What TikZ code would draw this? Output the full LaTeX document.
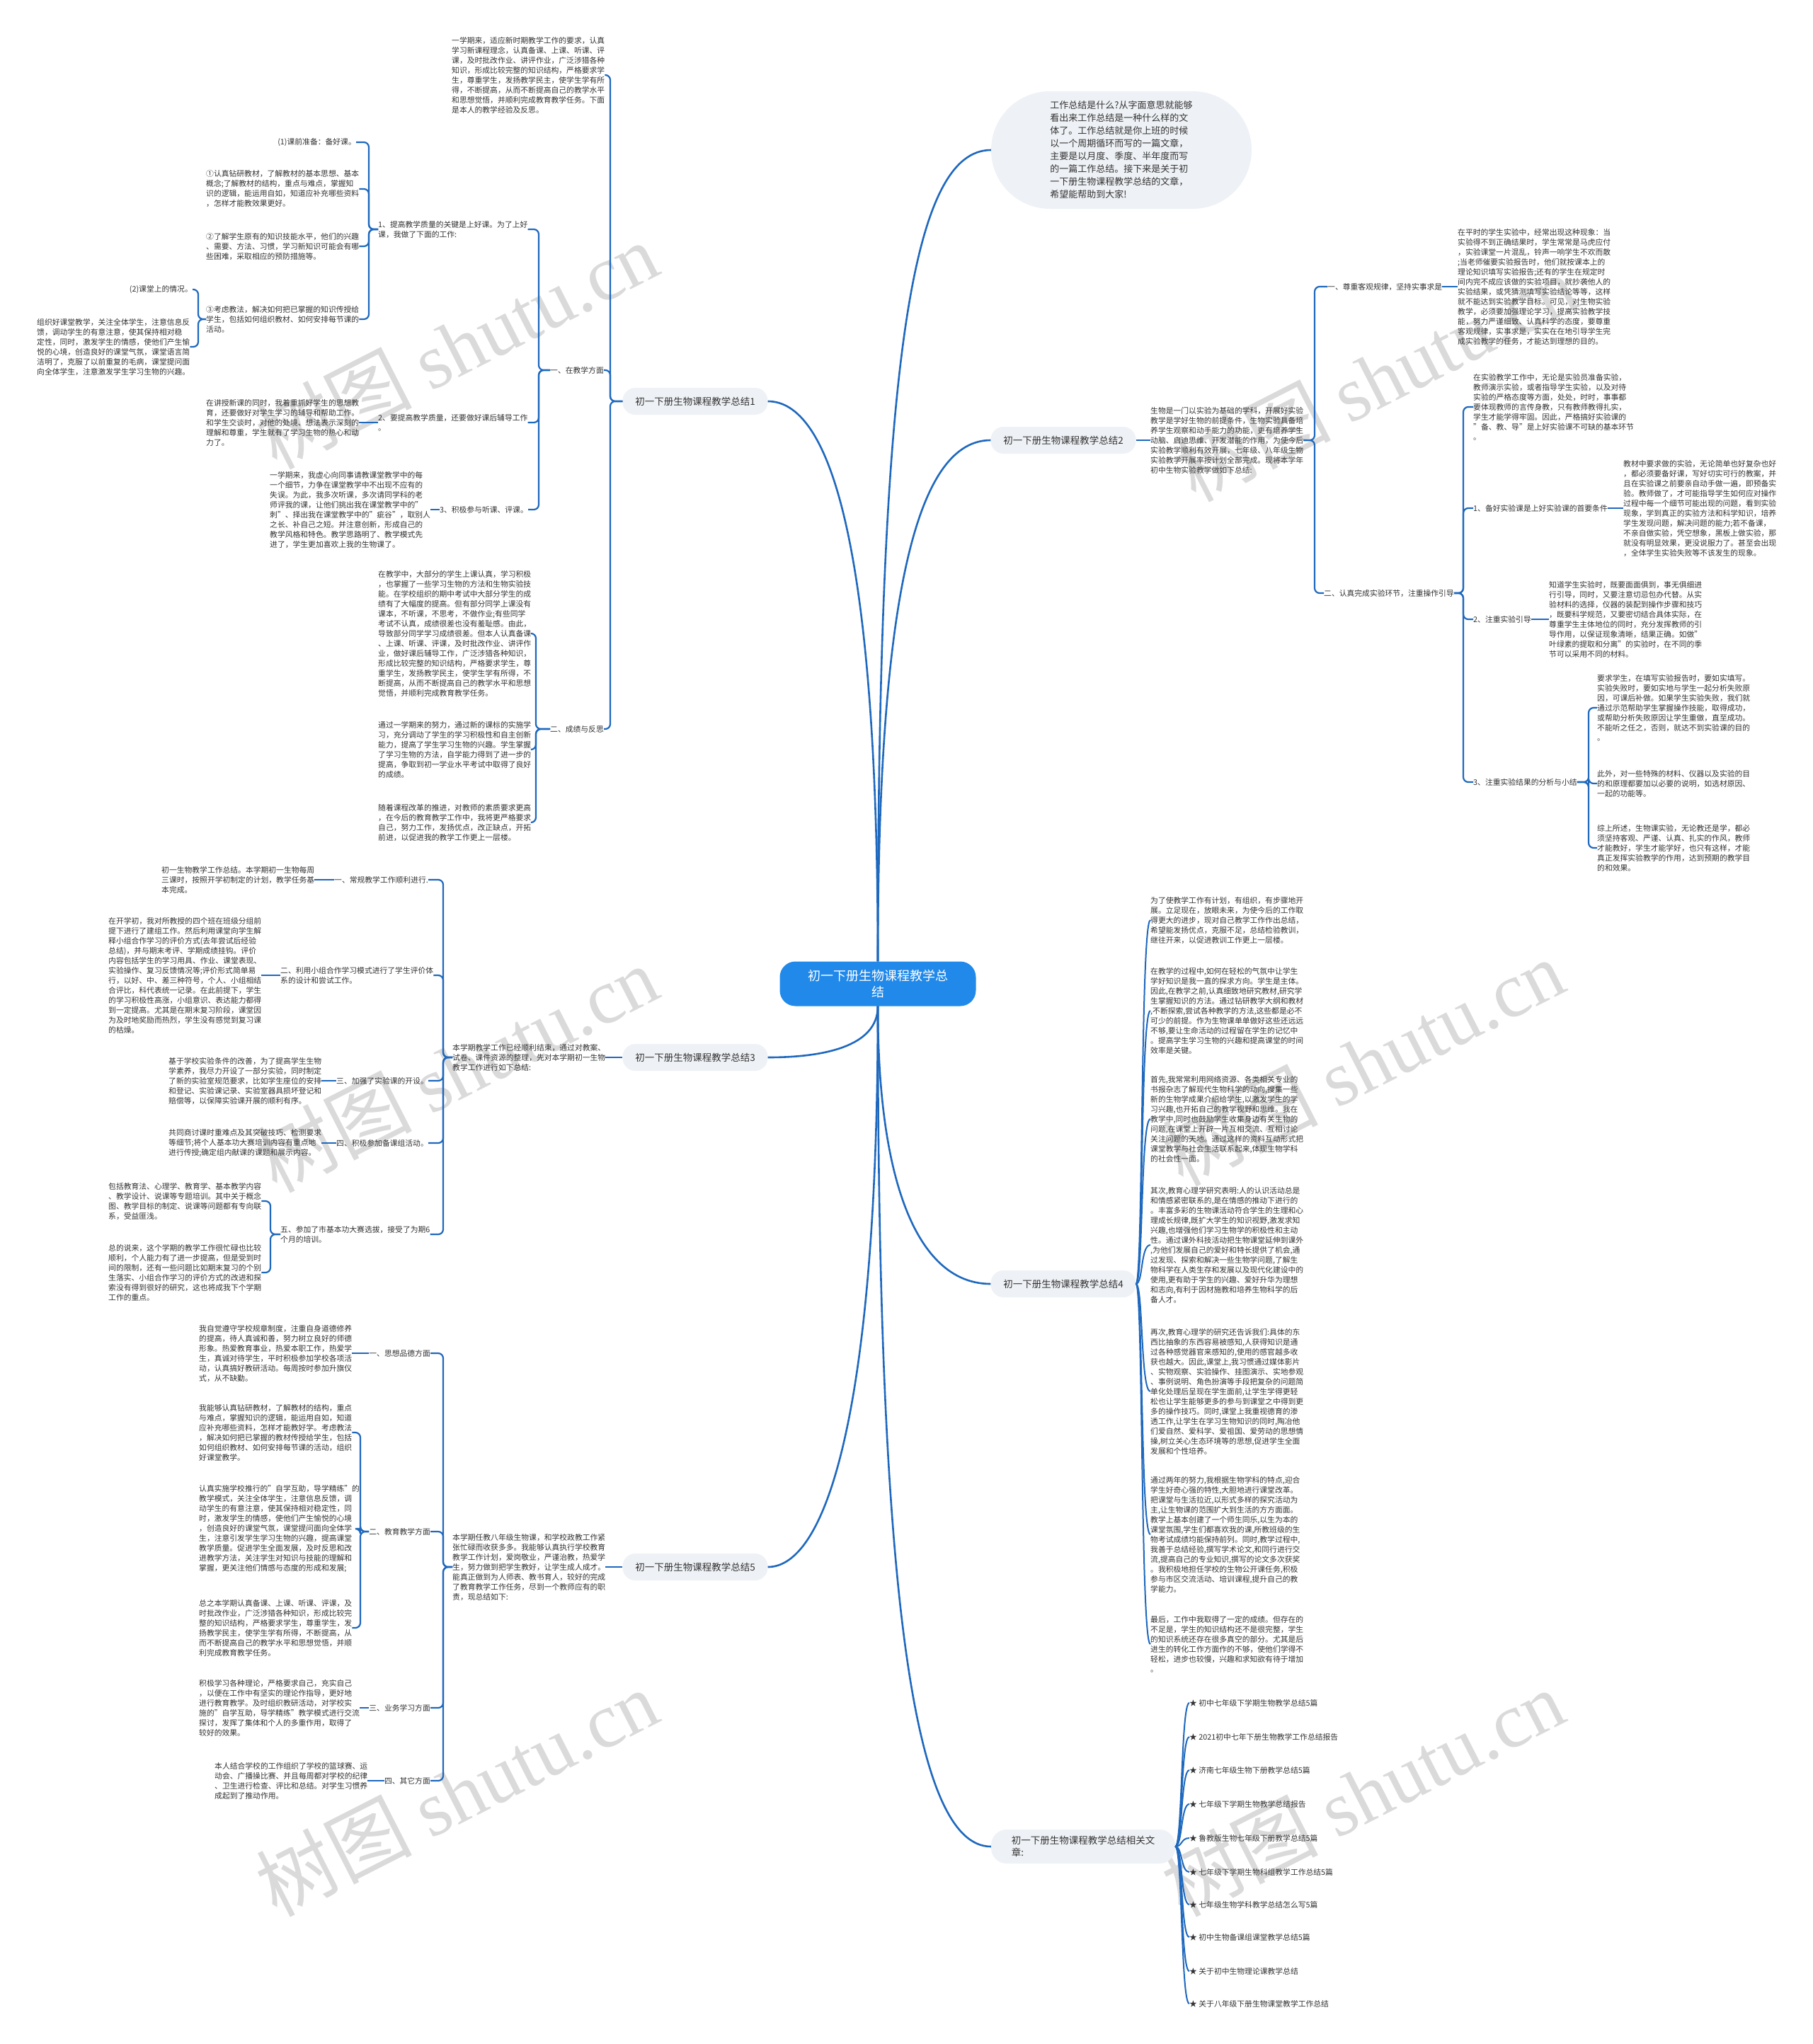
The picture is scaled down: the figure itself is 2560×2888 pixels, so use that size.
\documentclass[tikz,border=0pt]{standalone}
\usepackage{fontspec}
\setmainfont{Noto Sans CJK SC}
\newfontfamily\wmfont{Liberation Serif}
\definecolor{linec}{RGB}{30,104,190}
\definecolor{rootc}{RGB}{32,137,233}
\definecolor{lfill}{RGB}{238,241,245}
\definecolor{textc}{RGB}{51,51,51}
\definecolor{wmc}{RGB}{218,218,218}
\begin{document}
\begin{tikzpicture}[x=1pt,y=-1pt,
  txt/.style={align=left, inner sep=0pt, text=textc, font=\fontsize{10.8}{14}\selectfont},
  lvone/.style={fill=lfill, rounded corners=18pt, text=textc, font=\fontsize{13.5}{17}\selectfont, minimum width=205pt, minimum height=38pt, inner sep=0pt, align=center},
  conn/.style={draw=linec, line width=2.2pt, rounded corners=7pt},
  cconn/.style={draw=linec, line width=2pt},
  mconn/.style={draw=linec, line width=2.6pt},
  wm/.style={text=wmc, rotate=27, font=\fontsize{110}{110}\selectfont, inner sep=0pt}]
\fill[white] (0,0) rectangle (2560,2888);
\useasboundingbox (0,0) rectangle (2560,2888);
% watermarks
\node[wm] (w1) at (645,488) {树图 {\wmfont shutu.cn}};
\node[wm] (w2) at (1943,534) {树图 {\wmfont shutu.cn}};
\node[wm] (w3) at (645,1510) {树图 {\wmfont shutu.cn}};
\node[wm] (w4) at (1925,1501) {树图 {\wmfont shutu.cn}};
\node[wm] (w5) at (645,2533) {树图 {\wmfont shutu.cn}};
\node[wm] (w6) at (1925,2533) {树图 {\wmfont shutu.cn}};

% root
\node[fill=rootc, rounded corners=22pt, text=white, font=\fontsize{18}{23}\selectfont, minimum width=277pt, minimum height=63pt, align=center, inner sep=0pt] (root) at (1240,1390) {初一下册生物课程教学总\\结};

% level one
\node[lvone] (b1) at (982,567) {初一下册生物课程教学总结1};
\node[lvone] (b3) at (982,1494) {初一下册生物课程教学总结3};
\node[lvone] (b5) at (982,2214) {初一下册生物课程教学总结5};
\node[lvone] (b2) at (1502,622) {初一下册生物课程教学总结2};
\node[lvone] (b4) at (1502,1814) {初一下册生物课程教学总结4};
\node[lvone, minimum width=260pt, minimum height=48pt, rounded corners=22pt, align=left] (b6) at (1530,2609) {初一下册生物课程教学总结相关文\\章:};
\node[fill=lfill, rounded corners=83pt, minimum width=368pt, minimum height=166pt, align=left, inner sep=0pt, text=textc, font=\fontsize{13}{18}\selectfont] (intro) at (1584,212) {工作总结是什么?从字面意思就能够\\看出来工作总结是一种什么样的文\\体了。工作总结就是你上班的时候\\以一个周期循环而写的一篇文章，\\主要是以月度、季度、半年度而写\\的一篇工作总结。接下来是关于初\\一下册生物课程教学总结的文章，\\希望能帮助到大家!};

% root connectors
\draw[mconn] (root.north) .. controls (1240,760) and (1170,567) .. (b1.east);
\draw[mconn] (root.south) .. controls (1240,1480) and (1160,1494) .. (b3.east);
\draw[mconn] (root.south) .. controls (1240,1980) and (1170,2214) .. (b5.east);
\draw[mconn] (root.north) .. controls (1240,500) and (1290,212) .. (intro.west);
\draw[mconn] (root.north) .. controls (1240,820) and (1300,622) .. (b2.west);
\draw[mconn] (root.south) .. controls (1240,1680) and (1300,1814) .. (b4.west);
\draw[mconn] (root.south) .. controls (1240,2250) and (1290,2609) .. (b6.west);

% ================= Branch 1 =================
\node[txt, anchor=west] (p0) at (638,106) {一学期来，适应新时期教学工作的要求，认真\\学习新课程理念，认真备课、上课、听课、评\\课，及时批改作业、讲评作业，广泛涉猎各种\\知识，形成比较完整的知识结构，严格要求学\\生，尊重学生，发扬教学民主，使学生学有所\\得，不断提高，从而不断提高自己的教学水平\\和思想觉悟，并顺利完成教育教学任务。下面\\是本人的教学经验及反思。};
\node[txt, anchor=east] (n1) at (853,523) {一、在教学方面};
\node[txt, anchor=east] (n2) at (853,1030) {二、成绩与反思};
\coordinate (k1) at (862,567);
\draw[conn] (b1.west) -- (k1) |- (p0.east);
\draw[conn] (b1.west) -- (k1) |- (n1.east);
\draw[conn] (b1.west) -- (k1) |- (n2.east);

\node[txt, anchor=west] (c11) at (534,324) {1、提高教学质量的关键是上好课。为了上好\\课，我做了下面的工作:};
\node[txt, anchor=west] (c12) at (534,597) {2、要提高教学质量，还要做好课后辅导工作\\。};
\node[txt, anchor=east] (c13) at (746,720) {3、积极参与听课、评课。};
\coordinate (k11) at (761,523);
\draw[conn] (n1.west) -- (k11) |- (c11.east);
\draw[conn] (n1.west) -- (k11) |- (c12.east);
\draw[conn] (n1.west) -- (k11) |- (c13.east);

\node[txt, anchor=east] (d1) at (503,201) {(1)课前准备：备好课。};
\node[txt, anchor=west] (d2) at (291,267) {①认真钻研教材，了解教材的基本思想、基本\\概念;了解教材的结构，重点与难点，掌握知\\识的逻辑，能运用自如，知道应补充哪些资料\\，怎样才能教效果更好。};
\node[txt, anchor=west] (d3) at (291,348) {②了解学生原有的知识技能水平，他们的兴趣\\、需要、方法、习惯，学习新知识可能会有哪\\些困难，采取相应的预防措施等。};
\node[txt, anchor=west] (d4) at (291,451) {③考虑教法，解决如何把已掌握的知识传授给\\学生，包括如何组织教材、如何安排每节课的\\活动。};
\coordinate (k111) at (521,324);
\draw[conn] (c11.west) -- (k111) |- (d1.east);
\draw[conn] (c11.west) -- (k111) |- (d2.east);
\draw[conn] (c11.west) -- (k111) |- (d3.east);
\draw[conn] (c11.west) -- (k111) |- (d4.east);

\node[txt, anchor=east] (e1) at (272,409) {(2)课堂上的情况。};
\node[txt, anchor=west] (e2) at (52,490) {组织好课堂教学，关注全体学生，注意信息反\\馈，调动学生的有意注意，使其保持相对稳\\定性，同时，激发学生的情感，使他们产生愉\\悦的心境，创造良好的课堂气氛，课堂语言简\\洁明了，克服了以前重复的毛病，课堂提问面\\向全体学生，注意激发学生学习生物的兴趣。};
\coordinate (k1114) at (280,451);
\draw[conn] (d4.west) -- (k1114) |- (e1.east);
\draw[conn] (d4.west) -- (k1114) |- (e2.east);

\node[txt, anchor=west] (d5) at (291,597) {在讲授新课的同时，我着重抓好学生的思想教\\育，还要做好对学生学习的辅导和帮助工作。\\和学生交谈时，对他的处境、想法表示深刻的\\理解和尊重，学生就有了学习生物的热心和动\\力了。};
\draw[conn] (c12.west) -- (d5.east);
\node[txt, anchor=west] (d6) at (381,720) {一学期来，我虚心向同事请教课堂教学中的每\\一个细节，力争在课堂教学中不出现不应有的\\失误。为此，我多次听课，多次请同学科的老\\师评我的课，让他们挑出我在课堂教学中的"\\刺"、择出我在课堂教学中的"疵谷"，取别人\\之长、补自己之短。并注意创新，形成自己的\\教学风格和特色。教学思路明了、教学模式先\\进了，学生更加喜欢上我的生物课了。};
\draw[conn] (c13.west) -- (d6.east);

\node[txt, anchor=west] (d7) at (534,895) {在教学中，大部分的学生上课认真，学习积极\\，也掌握了一些学习生物的方法和生物实验技\\能。在学校组织的期中考试中大部分学生的成\\绩有了大幅度的提高。但有部分同学上课没有\\课本，不听课，不思考，不做作业;有些同学\\考试不认真，成绩很差也没有羞耻感。由此，\\导致部分同学学习成绩很差。但本人认真备课\\、上课、听课、评课，及时批改作业、讲评作\\业，做好课后辅导工作，广泛涉猎各种知识，\\形成比较完整的知识结构，严格要求学生，尊\\重学生，发扬教学民主，使学生学有所得，不\\断提高，从而不断提高自己的教学水平和思想\\觉悟，并顺利完成教育教学任务。};
\node[txt, anchor=west] (d8) at (534,1059) {通过一学期来的努力，通过新的课标的实施学\\习，充分调动了学生的学习积极性和自主创新\\能力，提高了学生学习生物的兴趣。学生掌握\\了学习生物的方法，自学能力得到了进一步的\\提高，争取到初一学业水平考试中取得了良好\\的成绩。};
\node[txt, anchor=west] (d9) at (534,1162) {随着课程改革的推进，对教师的素质要求更高\\，在今后的教育教学工作中，我将更严格要求\\自己，努力工作，发扬优点，改正缺点，开拓\\前进，以促进我的教学工作更上一层楼。};
\coordinate (k12) at (757,1030);
\draw[conn] (n2.west) -- (k12) |- (d7.east);
\draw[conn] (n2.west) -- (k12) |- (d8.east);
\draw[conn] (n2.west) -- (k12) |- (d9.east);

% ================= Branch 3 =================
\node[txt, anchor=west] (c3) at (639,1494) {本学期教学工作已经顺利结束，通过对教案、\\试卷、课件资源的整理，先对本学期初一生物\\教学工作进行如下总结:};
\draw[conn] (b3.west) -- (c3.east);
\coordinate (k3) at (626,1494);
\node[txt, anchor=east] (f1) at (605,1243) {一、常规教学工作顺利进行.};
\node[txt, anchor=west] (f2) at (396,1378) {二、利用小组合作学习模式进行了学生评价体\\系的设计和尝试工作。};
\node[txt, anchor=east] (f3) at (605,1527) {三、加强了实验课的开设。};
\node[txt, anchor=east] (f4) at (605,1615) {四、积极参加备课组活动。};
\node[txt, anchor=west] (f5) at (396,1744) {五、参加了市基本功大赛选拔，接受了为期6\\个月的培训。};
\draw[conn] (c3.west) -- (k3) |- (f1.east);
\draw[conn] (c3.west) -- (k3) |- (f2.east);
\draw[conn] (c3.west) -- (k3) |- (f3.east);
\draw[conn] (c3.west) -- (k3) |- (f4.east);
\draw[conn] (c3.west) -- (k3) |- (f5.east);

\node[txt, anchor=west] (g1) at (228,1243) {初一生物教学工作总结。本学期初一生物每周\\三课时，按照开学初制定的计划，教学任务基\\本完成。};
\draw[conn] (f1.west) -- (g1.east);
\node[txt, anchor=west] (g2) at (153,1378) {在开学初，我对所教授的四个班在班级分组前\\提下进行了建组工作。然后利用课堂向学生解\\释小组合作学习的评价方式(去年尝试后经验\\总结)，并与期末考评、学期成绩挂钩。评价\\内容包括学生的学习用具、作业、课堂表现、\\实验操作、复习反馈情况等;评价形式简单易\\行，以好、中、差三种符号，个人、小组相结\\合评比，科代表统一记录。在此前提下，学生\\的学习积极性高涨，小组意识、表达能力都得\\到一定提高。尤其是在期末复习阶段，课堂因\\为及时地奖励而热烈，学生没有感觉到复习课\\的枯燥。};
\draw[conn] (f2.west) -- (g2.east);
\node[txt, anchor=west] (g3) at (238,1527) {基于学校实验条件的改善，为了提高学生生物\\学素养，我尽力开设了一部分实验，同时制定\\了新的实验室规范要求，比如学生座位的安排\\和登记、实验课记录、实验室器具损坏登记和\\赔偿等，以保障实验课开展的顺利有序。};
\draw[conn] (f3.west) -- (g3.east);
\node[txt, anchor=west] (g4) at (238,1615) {共同商讨课时重难点及其突破技巧、检测要求\\等细节;将个人基本功大赛培训内容有重点地\\进行传授;确定组内献课的课题和展示内容。};
\draw[conn] (f4.west) -- (g4.east);
\node[txt, anchor=west] (g5) at (153,1697) {包括教育法、心理学、教育学、基本教学内容\\、教学设计、说课等专题培训。其中关于概念\\图、教学目标的制定、说课等问题都有专向联\\系，受益匪浅。};
\node[txt, anchor=west] (g6) at (153,1798) {总的说来，这个学期的教学工作很忙碌也比较\\顺利，个人能力有了进一步提高，但是受到时\\间的限制，还有一些问题比如期末复习的个别\\生落实、小组合作学习的评价方式的改进和探\\索没有得到很好的研究，这也将成我下个学期\\工作的重点。};
\coordinate (k35) at (382,1744);
\draw[conn] (f5.west) -- (k35) |- (g5.east);
\draw[conn] (f5.west) -- (k35) |- (g6.east);

% ================= Branch 5 =================
\node[txt, anchor=west] (c5) at (639,2214) {本学期任教八年级生物课，和学校政教工作紧\\张忙碌而收获多多。我能够认真执行学校教育\\教学工作计划，爱岗敬业，严谨治教，热爱学\\生，努力做到把学生教好，让学生成人成才。\\能真正做到为人师表、教书育人，较好的完成\\了教育教学工作任务，尽到一个教师应有的职\\责，现总结如下:};
\draw[conn] (b5.west) -- (c5.east);
\coordinate (k5) at (626,2214);
\node[txt, anchor=east] (h1) at (608,1912) {一、思想品德方面};
\node[txt, anchor=east] (h2) at (608,2164) {二、教育教学方面};
\node[txt, anchor=east] (h3) at (608,2413) {三、业务学习方面};
\node[txt, anchor=east] (h4) at (608,2516) {四、其它方面};
\draw[conn] (c5.west) -- (k5) |- (h1.east);
\draw[conn] (c5.west) -- (k5) |- (h2.east);
\draw[conn] (c5.west) -- (k5) |- (h3.east);
\draw[conn] (c5.west) -- (k5) |- (h4.east);

\node[txt, anchor=west] (i1) at (281,1912) {我自觉遵守学校规章制度，注重自身道德修养\\的提高，待人真诚和善，努力树立良好的师德\\形象。热爱教育事业，热爱本职工作，热爱学\\生，真诚对待学生，平时积极参加学校各项活\\动，认真搞好教研活动。每周按时参加升旗仪\\式，从不缺勤。};
\draw[conn] (h1.west) -- (i1.east);
\node[txt, anchor=west] (i2) at (281,2024) {我能够认真钻研教材，了解教材的结构，重点\\与难点，掌握知识的逻辑，能运用自如，知道\\应补充哪些资料，怎样才能教好学。考虑教法\\，解决如何把已掌握的教材传授给学生，包括\\如何组织教材、如何安排每节课的活动，组织\\好课堂教学。};
\node[txt, anchor=west] (i3) at (281,2160) {认真实施学校推行的"自学互助，导学精练"的\\教学模式，关注全体学生，注意信息反馈，调\\动学生的有意注意，使其保持相对稳定性，同\\时，激发学生的情感，使他们产生愉悦的心境\\，创造良好的课堂气氛，课堂提问面向全体学\\生，注意引发学生学习生物的兴趣，提高课堂\\教学质量。促进学生全面发展，及时反思和改\\进教学方法，关注学生对知识与技能的理解和\\掌握，更关注他们情感与态度的形成和发展;};
\node[txt, anchor=west] (i4) at (281,2300) {总之本学期认真备课、上课、听课、评课，及\\时批改作业，广泛涉猎各种知识，形成比较完\\整的知识结构，严格要求学生，尊重学生，发\\扬教学民主，使学生学有所得，不断提高，从\\而不断提高自己的教学水平和思想觉悟，并顺\\利完成教育教学任务。};
\coordinate (k52) at (509,2164);
\draw[conn] (h2.west) -- (k52) |- (i2.east);
\draw[conn] (h2.west) -- (k52) |- (i3.east);
\draw[conn] (h2.west) -- (k52) |- (i4.east);
\node[txt, anchor=west] (i5) at (281,2413) {积极学习各种理论，严格要求自己，充实自己\\，以便在工作中有坚实的理论作指导，更好地\\进行教育教学。及时组织教研活动，对学校实\\施的"自学互助，导学精练"教学模式进行交流\\探讨，发挥了集体和个人的多重作用，取得了\\较好的效果。};
\draw[conn] (h3.west) -- (i5.east);
\node[txt, anchor=west] (i6) at (303,2516) {本人结合学校的工作组织了学校的篮球赛、运\\动会、广播操比赛、并且每周都对学校的纪律\\、卫生进行检查、评比和总结。对学生习惯养\\成起到了推动作用。};
\draw[conn] (h4.west) -- (i6.east);

% ================= Branch 2 =================
\node[txt, anchor=west] (c2) at (1625,622) {生物是一门以实验为基础的学科，开展好实验\\教学是学好生物的前提条件，生物实验具备培\\养学生观察和动手能力的功能，更有培养学生\\动脑、启迪思维、开发潜能的作用，为使今后\\实验教学顺利有效开展，七年级、八年级生物\\实验教学开展率按计划全部完成。现将本学年\\初中生物实验教学做如下总结:};
\draw[conn] (b2.east) -- (c2.west);
\coordinate (k2) at (1857,622);
\node[txt, anchor=west] (m1) at (1875,405) {一、尊重客观规律，坚持实事求是};
\node[txt, anchor=west] (m2) at (1870,838) {二、认真完成实验环节，注重操作引导};
\draw[conn] (c2.east) -- (k2) |- (m1.west);
\draw[conn] (c2.east) -- (k2) |- (m2.west);
\node[txt, anchor=west] (m1p) at (2059,405) {在平时的学生实验中，经常出现这种现象：当\\实验得不到正确结果时，学生常常是马虎应付\\，实验课堂一片混乱，铃声一响学生不欢而散\\;当老师催要实验报告时，他们就按课本上的\\理论知识填写实验报告;还有的学生在规定时\\间内完不成应该做的实验项目，就抄袭他人的\\实验结果，或凭猜测填写实验结论等等，这样\\就不能达到实验教学目标。可见，对生物实验\\教学，必须要加强理论学习，提高实验教学技\\能，努力严谨细致、认真科学的态度，要尊重\\客观规律，实事求是，实实在在地引导学生完\\成实验教学的任务，才能达到理想的目的。};
\draw[conn] (m1.east) -- (m1p.west);

\coordinate (k22) at (2067,838);
\node[txt, anchor=west] (q1) at (2081,575) {在实验教学工作中，无论是实验员准备实验，\\教师演示实验，或者指导学生实验，以及对待\\实验的严格态度等方面，处处，时时，事事都\\要体现教师的言传身教，只有教师教得扎实，\\学生才能学得牢固。因此，严格搞好实验课的\\"备、教、导"是上好实验课不可缺的基本环节\\。};
\node[txt, anchor=west] (q2) at (2081,718) {1、备好实验课是上好实验课的首要条件};
\node[txt, anchor=west] (q3) at (2081,875) {2、注重实验引导};
\node[txt, anchor=west] (q4) at (2081,1105) {3、注重实验结果的分析与小结};
\draw[conn] (m2.east) -- (k22) |- (q1.west);
\draw[conn] (m2.east) -- (k22) |- (q2.west);
\draw[conn] (m2.east) -- (k22) |- (q3.west);
\draw[conn] (m2.east) -- (k22) |- (q4.west);

\node[txt, anchor=west] (r1) at (2293,718) {教材中要求做的实验，无论简单也好复杂也好\\，都必须要备好课，写好切实可行的教案，并\\且在实验课之前要亲自动手做一遍，即预备实\\验。教师做了，才可能指导学生如何应对操作\\过程中每一个细节可能出现的问题，看到实验\\现象，学到真正的实验方法和科学知识，培养\\学生发现问题，解决问题的能力;若不备课，\\不亲自做实验，凭空想象，黑板上做实验，那\\就没有明显效果，更没说服力了。甚至会出现\\，全体学生实验失败等不该发生的现象。};
\draw[conn] (q2.east) -- (r1.west);
\node[txt, anchor=west] (r2) at (2188,875) {知道学生实验时，既要面面俱到，事无俱细进\\行引导，同时，又要注意切忌包办代替。从实\\验材料的选择，仪器的装配到操作步骤和技巧\\，既要科学规范，又要密切结合具体实际，在\\尊重学生主体地位的同时，充分发挥教师的引\\导作用，以保证现象清晰，结果正确。如做"\\叶绿素的提取和分离"的实验时，在不同的季\\节可以采用不同的材料。};
\draw[conn] (q3.east) -- (r2.west);
\coordinate (k224) at (2244,1105);
\node[txt, anchor=west] (r3) at (2256,1000) {要求学生，在填写实验报告时，要如实填写。\\实验失败时，要如实地与学生一起分析失败原\\因，可课后补做。如果学生实验失败，我们就\\通过示范帮助学生掌握操作技能，取得成功，\\或帮助分析失败原因让学生重做，直至成功。\\不能听之任之，否则，就达不到实验课的目的\\。};
\node[txt, anchor=west] (r4) at (2256,1107) {此外，对一些特殊的材料、仪器以及实验的目\\的和原理都要加以必要的说明，如选材原因、\\一起的功能等。};
\node[txt, anchor=west] (r5) at (2256,1198) {综上所述，生物课实验，无论教还是学，都必\\须坚持客观、严谨、认真、扎实的作风，教师\\才能教好，学生才能学好，也只有这样，才能\\真正发挥实验教学的作用，达到预期的教学目\\的和效果。};
\draw[conn] (q4.east) -- (k224) |- (r3.west);
\draw[conn] (q4.east) -- (k224) |- (r4.west);
\draw[conn] (q4.east) -- (k224) |- (r5.west);

% ================= Branch 4 =================
\node[txt, anchor=west] (s1) at (1625,1300) {为了使教学工作有计划，有组织，有步骤地开\\展。立足现在，放眼未来，为使今后的工作取\\得更大的进步，现对自己教学工作作出总结，\\希望能发扬优点，克服不足，总结检验教训，\\继往开来，以促进教训工作更上一层楼。};
\node[txt, anchor=west] (s2) at (1625,1428) {在教学的过程中,如何在轻松的气氛中让学生\\学好知识是我一直的探求方向。学生是主体。\\因此,在教学之前,认真细致地研究教材,研究学\\生掌握知识的方法。通过钻研教学大纲和教材\\,不断探索,尝试各种教学的方法,这些都是必不\\可少的前提。作为生物课单单做好这些还远远\\不够,要让生命活动的过程留在学生的记忆中\\。提高学生学习生物的兴趣和提高课堂的时间\\效率是关键。};
\node[txt, anchor=west] (s3) at (1625,1581) {首先,我常常利用网络资源、各类相关专业的\\书报杂志了解现代生物科学的动向,搜集一些\\新的生物学成果介绍给学生,以激发学生的学\\习兴趣,也开拓自己的教学视野和思维。我在\\教学中,同时也鼓励学生收集身边有关生物的\\问题,在课堂上开辟一片互相交流、互相讨论\\关注问题的天地。通过这样的资料互动形式把\\课堂教学与社会生活联系起来,体现生物学科\\的社会性一面。};
\node[txt, anchor=west] (s4) at (1625,1759) {其次,教育心理学研究表明:人的认识活动总是\\和情感紧密联系的,是在情感的推动下进行的\\。丰富多彩的生物课活动符合学生的生理和心\\理成长规律,既扩大学生的知识视野,激发求知\\兴趣,也增强他们学习生物学的积极性和主动\\性。通过课外科技活动把生物课堂延伸到课外\\,为他们发展自己的爱好和特长提供了机会,通\\过发现、探索和解决一些生物学问题,了解生\\物科学在人类生存和发展以及现代化建设中的\\使用,更有助于学生的兴趣、爱好升华为理想\\和志向,有利于因材施教和培养生物科学的后\\备人才。};
\node[txt, anchor=west] (s5) at (1625,1966) {再次,教育心理学的研究还告诉我们:具体的东\\西比抽象的东西容易被感知,人获得知识是通\\过各种感觉器官来感知的,使用的感官越多收\\获也越大。因此,课堂上,我习惯通过媒体影片\\、实物观察、实验操作、挂图演示、实地参观\\、事例说明、角色扮演等手段把复杂的问题简\\单化处理后呈现在学生面前,让学生学得更轻\\松也让学生能够更多的参与到课堂之中得到更\\多的操作技巧。同时,课堂上我重视德育的渗\\透工作,让学生在学习生物知识的同时,陶冶他\\们爱自然、爱科学、爱祖国、爱劳动的思想情\\操,树立关心生态环境等的思想,促进学生全面\\发展和个性培养。};
\node[txt, anchor=west] (s6) at (1625,2168) {通过两年的努力,我根据生物学科的特点,迎合\\学生好奇心强的特性,大胆地进行课堂改革。\\把课堂与生活拉近,以形式多样的探究活动为\\主,让生物课的范围扩大到生活的方方面面。\\教学上基本创建了一个师生同乐,以生为本的\\课堂氛围,学生们都喜欢我的课,所教班级的生\\物考试成绩均能保持前列。同时,教学过程中,\\我善于总结经验,撰写学术论文,和同行进行交\\流,提高自己的专业知识,撰写的论文多次获奖\\。我积极地担任学校的生物公开课任务,积极\\参与市区交流活动、培训课程,提升自己的教\\学能力。};
\node[txt, anchor=west] (s7) at (1625,2323) {最后，工作中我取得了一定的成绩。但存在的\\不足是，学生的知识结构还不是很完整，学生\\的知识系统还存在很多真空的部分。尤其是后\\进生的转化工作方面作的不够，使他们学得不\\轻松，进步也较慢，兴趣和求知欲有待于增加\\。};
\foreach \s in {s1,s2,s3,s4,s5,s6,s7}
  \draw[cconn] (b4.east) .. controls +(10,0) and +(-14,0) .. (\s.west);

% ================= Branch 6 =================
\node[txt, anchor=west] (t1) at (1680,2406) {★ 初中七年级下学期生物教学总结5篇};
\node[txt, anchor=west] (t2) at (1680,2454) {★ 2021初中七年下册生物教学工作总结报告};
\node[txt, anchor=west] (t3) at (1680,2501) {★ 济南七年级生物下册教学总结5篇};
\node[txt, anchor=west] (t4) at (1680,2549) {★ 七年级下学期生物教学总结报告};
\node[txt, anchor=west] (t5) at (1680,2597) {★ 鲁教版生物七年级下册教学总结5篇};
\node[txt, anchor=west] (t6) at (1680,2645) {★ 七年级下学期生物科组教学工作总结5篇};
\node[txt, anchor=west] (t7) at (1680,2691) {★ 七年级生物学科教学总结怎么写5篇};
\node[txt, anchor=west] (t8) at (1680,2737) {★ 初中生物备课组课堂教学总结5篇};
\node[txt, anchor=west] (t9) at (1680,2785) {★ 关于初中生物理论课教学总结};
\node[txt, anchor=west] (t10) at (1680,2831) {★ 关于八年级下册生物课堂教学工作总结};
\foreach \t in {t1,t2,t3,t4,t5,t6,t7,t8,t9,t10}
  \draw[cconn] (b6.east) .. controls +(10,0) and +(-12,0) .. (\t.west);
\end{tikzpicture}
\end{document}
